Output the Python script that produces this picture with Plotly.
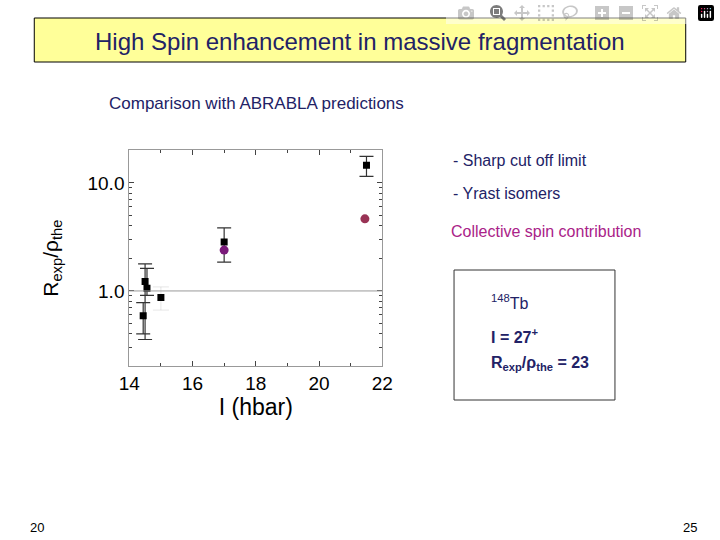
import plotly.graph_objects as go

# data
spin_exp = [14.44, 14.50, 14.56, 17.0, 21.5]
ratio_exp = [0.59, 1.22, 1.06, 2.84, 14.6]
err_hi = [0.78, 1.78, 1.62, 3.83, 17.6]
err_lo = [0.40, 0.355, 0.91, 1.85, 11.5]
spin_gray = [15.0]
ratio_gray = [0.87]
gray_hi = [1.09]
gray_lo = [0.665]
spin_pred = [17.0, 21.45]
ratio_pred = [2.39, 4.65]
pred_colors = ["#7a1a7a", "#993355"]

W, H = 720, 540
def px(x): return x / W
def py(y): return 1 - y / H

fig = go.Figure()
fig.add_trace(go.Scatter(
    x=spin_exp, y=ratio_exp, mode="markers",
    marker=dict(symbol="square", size=7, color="black"),
    error_y=dict(type="data", symmetric=False,
                 array=[h - v for h, v in zip(err_hi, ratio_exp)],
                 arrayminus=[v - l for l, v in zip(err_lo, ratio_exp)],
                 color="#333333", thickness=1.2, width=7)))
fig.add_trace(go.Scatter(
    x=spin_gray, y=ratio_gray, mode="markers",
    marker=dict(symbol="square", size=7, color="black"),
    error_y=dict(type="data", symmetric=False,
                 array=[h - v for h, v in zip(gray_hi, ratio_gray)],
                 arrayminus=[v - l for l, v in zip(gray_lo, ratio_gray)],
                 color="#aaaaaa", thickness=0.3, width=8)))
fig.add_trace(go.Scatter(
    x=spin_pred, y=ratio_pred, mode="markers",
    marker=dict(symbol="circle", size=9, color=pred_colors)))

fig.add_hline(y=1.0, line=dict(color="#999999", width=1))

font = "Liberation Sans, Arial, sans-serif"
fig.update_layout(
    width=W, height=H, margin=dict(l=0, r=0, t=0, b=0),
    paper_bgcolor="white", plot_bgcolor="white", showlegend=False,
    font=dict(family=font, color="black"),
    xaxis=dict(domain=[px(122), px(383)], range=[14, 22],
               tickvals=[14, 16, 18, 20, 22], ticks="inside", ticklen=5,
               minor=dict(dtick=1, ticks="inside", ticklen=3),
               showgrid=False, zeroline=False, showline=True, linecolor="#999999",
               mirror="ticks", tickfont=dict(size=19),
               title=dict(text="I (hbar)", font=dict(size=23), standoff=4)),
    yaxis=dict(domain=[py(366), py(150)], type="log", range=[-0.695, 1.305],
               tickvals=[1, 10], ticktext=["1.0", "10.0"], ticks="inside", ticklen=5,
               minor=dict(tickvals=[0.3, 0.4, 0.5, 0.6, 0.7, 0.8, 0.9, 2, 3, 4, 5, 6, 7, 8, 9, 20],
                          ticks="inside", ticklen=3),
               showgrid=False, zeroline=False, showline=True, linecolor="#999999",
               mirror="ticks", tickfont=dict(size=19)),
)

fig.add_shape(type="rect", xref="paper", yref="paper",
              x0=px(24), x1=px(696), y0=py(62), y1=py(18),
              fillcolor="#FFFF99", line=dict(color="black", width=1))
ann = []
ann.append(dict(x=px(360), y=py(41), text="High Spin enhancement in massive fragmentation",
                font=dict(size=24, color="#222266")))
ann.append(dict(x=px(99), y=py(103), text="Comparison with ABRABLA predictions",
                xanchor="left", font=dict(size=17, color="#222266")))
ann.append(dict(x=px(42), y=py(258), text="R<sub>exp</sub>/ρ<sub>the</sub>", textangle=-90,
                font=dict(size=21, color="black")))
ann.append(dict(x=px(454), y=py(160), text="- Sharp cut off limit", xanchor="left",
                font=dict(size=16, color="#222266")))
ann.append(dict(x=px(454), y=py(193), text="- Yrast isomers", xanchor="left",
                font=dict(size=16, color="#222266")))
ann.append(dict(x=px(452), y=py(231), text="Collective spin contribution", xanchor="left",
                font=dict(size=16, color="#aa2288")))
ann.append(dict(x=px(493), y=py(302), text="<sup>148</sup>Tb", xanchor="left",
                font=dict(size=16, color="#222266")))
ann.append(dict(x=px(493), y=py(336), text="<b>I = 27<sup>+</sup></b>", xanchor="left",
                font=dict(size=16, color="#222266")))
ann.append(dict(x=px(493), y=py(363), text="<b>R<sub>exp</sub>/ρ<sub>the</sub> = 23</b>", xanchor="left",
                font=dict(size=16, color="#222266")))
ann.append(dict(x=px(27), y=py(527), text="20", font=dict(size=13, color="black")))
ann.append(dict(x=px(700), y=py(527), text="25", font=dict(size=13, color="black")))
for a in ann:
    a.update(xref="paper", yref="paper", showarrow=False)
    a.setdefault("xanchor", "center")
    a.setdefault("yanchor", "middle")
    fig.add_annotation(**a)

fig.add_shape(type="rect", xref="paper", yref="paper",
              x0=px(457), x1=px(623), y0=py(400), y1=py(270),
              line=dict(color="#333333", width=1))

fig.write_html("out.html",
               post_script="document.body.style.margin='0';document.body.style.overflow='hidden';")
